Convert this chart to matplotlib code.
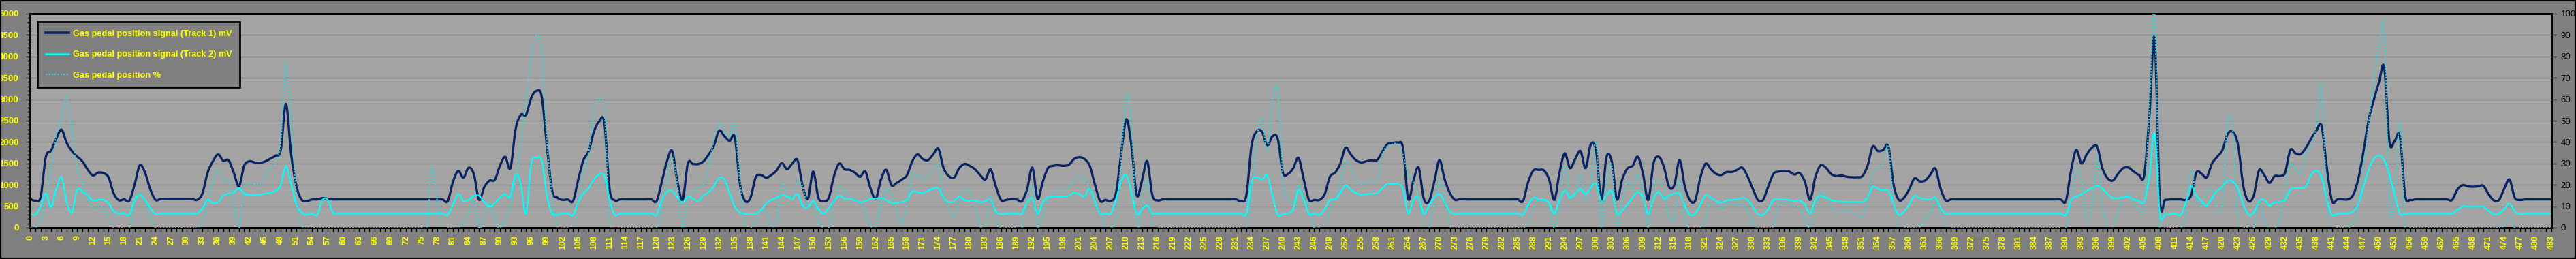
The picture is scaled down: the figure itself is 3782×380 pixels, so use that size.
import numpy as np
import matplotlib
matplotlib.use("Agg")
import matplotlib.pyplot as plt
from matplotlib.path import Path
from matplotlib.patches import PathPatch, Rectangle
from matplotlib.lines import Line2D
from matplotlib.ticker import MultipleLocator

# ---------------- data ----------------
sample = np.arange(484)

track1_mv = [
    670, 630, 720, 1650, 1800, 2080, 2290, 1980, 1790, 1660,
    1550, 1360, 1220, 1285, 1275, 1180, 800, 640, 660, 630,
    1000, 1455, 1285, 900, 650, 670, 670, 670, 670, 670,
    670, 670, 650, 800, 1285, 1550, 1710, 1560, 1576, 1285,
    966, 1445, 1550, 1523, 1513, 1545, 1610, 1680, 1815, 2890,
    1710, 970, 653, 621, 658, 660, 690, 674, 660, 660,
    660, 660, 660, 660, 660, 660, 660, 660, 660, 660,
    660, 660, 660, 660, 660, 660, 660, 660, 660, 660,
    620, 1072, 1327, 1168, 1400, 1250, 650, 950, 1099, 1115,
    1444, 1656, 1390, 2300, 2638, 2638, 3036, 3195, 3063, 1900,
    860, 700, 648, 658, 620, 1125, 1576, 1790, 2240, 2479,
    2452, 900, 637, 660, 660, 660, 660, 660, 660, 660,
    620, 1070, 1550, 1790, 1072, 648, 1497, 1486, 1486, 1550,
    1710, 1921, 2266, 2134, 2028, 2107, 1000, 620, 700, 1178,
    1231, 1168, 1231, 1337, 1507, 1364, 1497, 1576, 966, 674,
    1310, 700, 620, 700, 1205, 1497, 1364, 1348, 1285, 1189,
    1311, 913, 674, 1125, 1350, 992, 1045, 1125, 1231, 1550,
    1710, 1603, 1576, 1710, 1842, 1390, 1205, 1168, 1390, 1486,
    1444, 1364, 1231, 1125, 1364, 966, 648, 648, 669, 658,
    620, 900, 1400, 674, 1072, 1390, 1444, 1455, 1444, 1470,
    1603, 1645, 1603, 1444, 1000, 620, 648, 620, 800, 1710,
    2532, 1900, 754, 1100, 1550, 754, 637, 660, 660, 660,
    660, 660, 660, 660, 660, 660, 660, 660, 660, 660,
    660, 660, 620, 754, 1921, 2250, 2240, 1921, 2134, 2080,
    1285, 1258, 1390, 1630, 1125, 648, 648, 648, 780, 1189,
    1285, 1497, 1868, 1710, 1576, 1523, 1550, 1576, 1576, 1762,
    1948, 1975, 1985, 1868, 674, 1100, 1400, 674, 620, 1072,
    1576, 1125, 807, 648, 674, 660, 660, 660, 660, 660,
    660, 660, 660, 660, 660, 660, 620, 1072, 1337, 1348,
    1337, 1125, 648, 1285, 1736, 1390, 1603, 1790, 1390, 1950,
    1800, 650, 1650, 1550, 660, 1125, 1380, 1444, 1656, 1250,
    648, 1497, 1656, 1417, 950, 1000, 1580, 966, 637, 637,
    1178, 1497, 1364, 1258, 1231, 1300, 1300, 1348, 1401, 1205,
    913, 648, 648, 966, 1258, 1311, 1327, 1311, 1242, 1274,
    1072, 648, 1178, 1455, 1401, 1258, 1205, 1221, 1189, 1178,
    1178, 1205, 1444, 1895, 1790, 1815, 1895, 1000, 648, 700,
    900, 1152, 1083, 1099, 1231, 1380, 913, 637, 660, 660,
    660, 660, 660, 660, 660, 660, 660, 660, 660, 660,
    660, 660, 660, 660, 660, 660, 660, 660, 660, 660,
    620, 1337, 1815, 1497, 1710, 1868, 1895, 1390, 1152, 1099,
    1258, 1390, 1401, 1311, 1231, 1221, 2600, 4420, 660, 648,
    660, 660, 660, 648, 754, 1285, 1258, 1178, 1497, 1656,
    1815, 2187, 2240, 1921, 966, 620, 754, 1337, 1231, 1046,
    1205, 1205, 1285, 1815, 1736, 1720, 1868, 2080, 2266, 2373,
    1400, 620, 660, 660, 660, 754, 1125, 1762, 2505, 2983,
    3400, 3740, 2000, 2028, 2134, 754, 648, 660, 660, 660,
    660, 660, 660, 660, 648, 886, 992, 966, 955, 966,
    977, 780, 637, 648, 913, 1125, 700, 648, 660, 660,
    660, 660, 660, 660,
]

track2_mv = [
    330, 300, 500, 800, 478, 900, 1178, 600, 355, 886,
    830, 754, 637, 650, 650, 570, 380, 330, 330, 300,
    650, 754, 650, 460, 318, 330, 330, 330, 330, 330,
    330, 330, 330, 450, 650, 570, 600, 743, 796, 817,
    924, 796, 764, 764, 770, 796, 812, 860, 990, 1433,
    1019, 541, 355, 300, 330, 300, 650, 650, 355, 330,
    330, 330, 330, 330, 330, 330, 330, 330, 330, 330,
    330, 330, 330, 330, 330, 330, 330, 330, 330, 330,
    300, 540, 780, 620, 650, 743, 743, 595, 490, 570,
    700, 780, 727, 1250, 1000, 330, 1497, 1630, 1576, 754,
    330, 300, 330, 330, 300, 595, 807, 924, 1125, 1242,
    1205, 648, 300, 330, 330, 330, 330, 330, 330, 330,
    300, 650, 833, 860, 700, 595, 727, 674, 620, 754,
    833, 966, 1168, 1125, 807, 488, 356, 318, 318, 318,
    408, 568, 648, 700, 754, 727, 674, 780, 515, 478,
    620, 435, 330, 460, 620, 743, 674, 674, 637, 595,
    620, 674, 674, 700, 648, 578, 578, 595, 658, 844,
    833, 807, 860, 913, 913, 700, 595, 620, 727, 648,
    620, 637, 595, 620, 658, 382, 318, 330, 330, 330,
    330, 595, 674, 330, 595, 711, 727, 727, 727, 743,
    817, 780, 727, 913, 595, 330, 330, 330, 648, 1072,
    1231, 807, 318, 435, 515, 330, 330, 330, 330, 330,
    330, 330, 330, 330, 330, 330, 330, 330, 330, 330,
    330, 330, 330, 330, 1072, 1178, 1125, 1221, 754, 300,
    318, 330, 435, 886, 648, 318, 330, 300, 435, 648,
    658, 807, 992, 886, 807, 770, 780, 796, 807, 913,
    1019, 1019, 1019, 913, 330, 648, 700, 330, 515, 700,
    780, 595, 382, 318, 330, 330, 330, 330, 330, 330,
    330, 330, 330, 330, 330, 330, 300, 540, 700, 658,
    658, 568, 330, 648, 860, 700, 807, 902, 780, 940,
    1019, 620, 754, 850, 330, 408, 540, 700, 833, 700,
    318, 674, 833, 674, 754, 796, 796, 515, 300, 330,
    540, 754, 700, 620, 584, 637, 648, 658, 700, 648,
    488, 318, 300, 435, 648, 658, 658, 648, 620, 637,
    540, 330, 648, 743, 700, 648, 620, 610, 605, 605,
    605, 605, 700, 955, 902, 870, 860, 540, 300, 382,
    540, 743, 690, 669, 658, 700, 462, 318, 330, 330,
    330, 330, 330, 330, 330, 330, 330, 330, 330, 330,
    330, 330, 330, 330, 330, 330, 330, 330, 330, 330,
    300, 648, 727, 780, 860, 924, 977, 913, 780, 685,
    690, 711, 711, 658, 620, 605, 1200, 2200, 330, 300,
    318, 330, 300, 595, 966, 754, 620, 515, 700, 860,
    955, 1099, 1072, 913, 540, 300, 355, 620, 648, 515,
    584, 605, 648, 886, 924, 924, 966, 1231, 1337, 1178,
    648, 300, 318, 330, 330, 382, 540, 940, 1348, 1603,
    1683, 1576, 1231, 754, 330, 318, 330, 330, 330, 330,
    330, 330, 330, 330, 330, 408, 499, 488, 488, 488,
    488, 393, 313, 330, 435, 568, 382, 318, 330, 330,
    330, 330, 330, 330,
]

pedal_pct = [
    0, 0, 4, 13, 28, 43, 51, 61, 45, 28,
    21, 14, 9, 10, 9, 4, 0, 0, 0, 0,
    10, 17, 12, 5, 0, 0, 0, 0, 0, 0,
    0, 0, 0, 3, 13, 22, 27, 22, 22, 12,
    0, 18, 21, 20, 20, 24, 28, 30, 40, 77,
    51, 15, 1, 0, 0, 0, 0, 0, 0, 0,
    0, 0, 0, 0, 0, 0, 0, 0, 0, 0,
    0, 0, 0, 0, 0, 0, 0, 28, 12, 0,
    0, 0, 0, 3, 7, 13, 0, 5, 12, 3,
    0, 4, 10, 22, 40, 60, 80, 90, 83, 40,
    15, 0, 0, 0, 0, 12, 25, 35, 55, 60,
    55, 5, 0, 0, 0, 0, 0, 0, 0, 0,
    0, 8, 22, 33, 20, 0, 14, 17, 19, 20,
    29, 41, 49, 45, 43, 48, 21, 0, 0, 3,
    8, 7, 1, 3, 20, 16, 14, 22, 19, 10,
    11, 3, 0, 0, 13, 19, 17, 15, 13, 11,
    8, 1, 0, 11, 18, 16, 8, 2, 11, 25,
    24, 23, 24, 28, 29, 15, 9, 5, 13, 18,
    17, 10, 1, 0, 15, 3, 0, 0, 0, 0,
    0, 12, 19, 0, 7, 13, 16, 17, 17, 19,
    22, 24, 22, 18, 11, 7, 0, 0, 4, 32,
    62, 47, 0, 11, 22, 0, 0, 0, 0, 0,
    0, 0, 0, 0, 0, 0, 0, 0, 0, 0,
    0, 0, 0, 0, 16, 42, 51, 36, 59, 64,
    21, 13, 12, 20, 14, 10, 0, 0, 0, 9,
    14, 21, 31, 28, 22, 20, 21, 22, 22, 34,
    38, 39, 39, 34, 25, 21, 14, 0, 0, 11,
    22, 13, 1, 0, 0, 0, 0, 0, 0, 0,
    0, 0, 0, 0, 0, 0, 0, 2, 9, 13,
    12, 9, 0, 11, 29, 15, 15, 25, 13, 20,
    40, 0, 21, 29, 0, 13, 22, 18, 25, 16,
    0, 19, 22, 18, 5, 5, 22, 4, 0, 0,
    0, 4, 14, 12, 9, 11, 11, 11, 11, 8,
    2, 0, 0, 0, 1, 11, 12, 11, 10, 9,
    4, 0, 9, 16, 16, 10, 7, 8, 8, 7,
    6, 5, 13, 25, 28, 30, 38, 11, 0, 0,
    0, 0, 0, 3, 7, 12, 8, 0, 0, 0,
    0, 0, 0, 0, 0, 0, 0, 0, 0, 0,
    0, 0, 0, 0, 0, 0, 0, 0, 0, 0,
    0, 12, 28, 22, 3, 10, 34, 10, 0, 0,
    8, 14, 16, 11, 9, 10, 55, 100, 0, 0,
    0, 0, 0, 5, 27, 13, 10, 17, 18, 9,
    11, 50, 45, 0, 0, 0, 0, 13, 3, 0,
    0, 4, 18, 30, 27, 26, 34, 38, 48, 66,
    12, 0, 0, 0, 0, 2, 10, 28, 48, 70,
    85, 92, 10, 15, 49, 0, 0, 0, 0, 0,
    0, 0, 0, 0, 0, 0, 0, 0, 0, 0,
    0, 0, 0, 0, 1, 5, 0, 0, 0, 0,
    0, 0, 0, 0,
]

series_names = [
    "Gas pedal position signal (Track 1) mV",
    "Gas pedal position signal (Track 2) mV",
    "Gas pedal position %",
]
left_ticks = list(range(0, 5001, 500))
right_ticks = list(range(0, 101, 10))

# ---------------- style ----------------
W, H = 3782, 380
FIG_BG = "#808080"
PLOT_BG = "#A4A4A4"
GRID = "#7f7f7f"
NAVY = "#0a2463"
CYAN = "#00FFFF"
CYAN_DOT = "#33D6D6"
YELLOW = "#FFFF00"
FONT = "Liberation Sans"

plt.rcParams["font.family"] = [FONT, "DejaVu Sans"]


def smooth_path(x, y):
    """Excel-like smoothed line as cubic Bezier segments in data space."""
    x = np.asarray(x, float)
    y = np.asarray(y, float)
    n = len(x)
    verts = [(x[0], y[0])]
    codes = [Path.MOVETO]
    for i in range(n - 1):
        a = i - 1 if i > 0 else i
        d = i + 2 if i + 2 < n else i + 1
        c1 = (x[i] + (x[i + 1] - x[a]) / 6.0, y[i] + (y[i + 1] - y[a]) / 6.0)
        c2 = (x[i + 1] - (x[d] - x[i]) / 6.0, y[i + 1] - (y[d] - y[i]) / 6.0)
        verts += [c1, c2, (x[i + 1], y[i + 1])]
        codes += [Path.CURVE4] * 3
    return Path(verts, codes)


fig = plt.figure(figsize=(W / 100, H / 100), dpi=100, facecolor=FIG_BG)
left, right, top, bottom = 44.3, 3745.7, 20, 334
ax = fig.add_axes([left / W, 1 - bottom / H, (right - left) / W, (bottom - top) / H])
ax.set_facecolor(PLOT_BG)
ax.set_xlim(sample[0], sample[-1])
ax.set_ylim(0, 5000)

# grid
ax.set_yticks(left_ticks)
ax.yaxis.grid(True, color=GRID, linewidth=1.0)
ax.set_axisbelow(True)

# lines on primary axis
ax.add_patch(PathPatch(smooth_path(sample, track1_mv), fill=False,
                       edgecolor=NAVY, linewidth=2.4, capstyle="round",
                       joinstyle="round", zorder=3))
ax.add_patch(PathPatch(smooth_path(sample, track2_mv), fill=False,
                       edgecolor=CYAN, linewidth=1.6, capstyle="round",
                       joinstyle="round", zorder=3))

# secondary axis
ax2 = ax.twinx()
ax2.set_ylim(0, 100)
ax2.set_xlim(sample[0], sample[-1])
ax2.add_patch(PathPatch(smooth_path(sample, pedal_pct), fill=False,
                        edgecolor=CYAN_DOT, linewidth=1.5,
                        linestyle=(0, (1.0, 1.1)), zorder=3))

# x ticks
ax.set_xticks(sample[::3])
ax.set_xticklabels([str(v) for v in sample[::3]], rotation=90,
                   fontsize=9, fontweight="bold", color=YELLOW)
ax.xaxis.set_minor_locator(MultipleLocator(1))
ax.tick_params(axis="x", which="both", direction="out", length=4, width=1,
               color="black", pad=4)

# left y ticks
ax.set_yticklabels([str(v) for v in left_ticks], fontsize=9.5,
                   fontweight="bold", color=YELLOW)
ax.yaxis.set_minor_locator(MultipleLocator(100))
ax.tick_params(axis="y", which="major", direction="out", length=4, width=1,
               color="black", pad=8)
ax.tick_params(axis="y", which="minor", direction="out", length=3, width=1,
               color="black")

# right y ticks
ax2.set_yticks(right_ticks)
ax2.set_yticklabels([str(v) for v in right_ticks], fontsize=9.5, color="black")
ax2.tick_params(axis="y", direction="out", length=5, width=1, color="black",
                pad=5)

for a in (ax, ax2):
    for s in a.spines.values():
        s.set_color("black")
        s.set_linewidth(2.0)

# legend
handles = [
    Line2D([], [], color=NAVY, linewidth=2.6),
    Line2D([], [], color=CYAN, linewidth=1.8),
    Line2D([], [], color=CYAN_DOT, linewidth=1.5, linestyle=(0, (1.0, 1.1))),
]
leg = ax2.legend(handles, series_names, loc="upper left",
                 bbox_to_anchor=((55 - left) / (right - left), (bottom - 32) / (bottom - top)),
                 frameon=True, fancybox=False, framealpha=1.0,
                 facecolor="#808080", edgecolor="black",
                 prop={"family": FONT, "weight": "bold", "size": 9.2},
                 labelcolor=YELLOW, handlelength=2.7, handletextpad=0.45,
                 labelspacing=1.45, borderpad=0.9, borderaxespad=0.0)
leg.get_frame().set_linewidth(2.0)
leg.set_zorder(10)

# figure border
fig.patches.append(Rectangle((0, 0), 1, 1, transform=fig.transFigure,
                             fill=False, edgecolor="black", linewidth=3))

fig.savefig("out.png", dpi=100, facecolor=FIG_BG)
